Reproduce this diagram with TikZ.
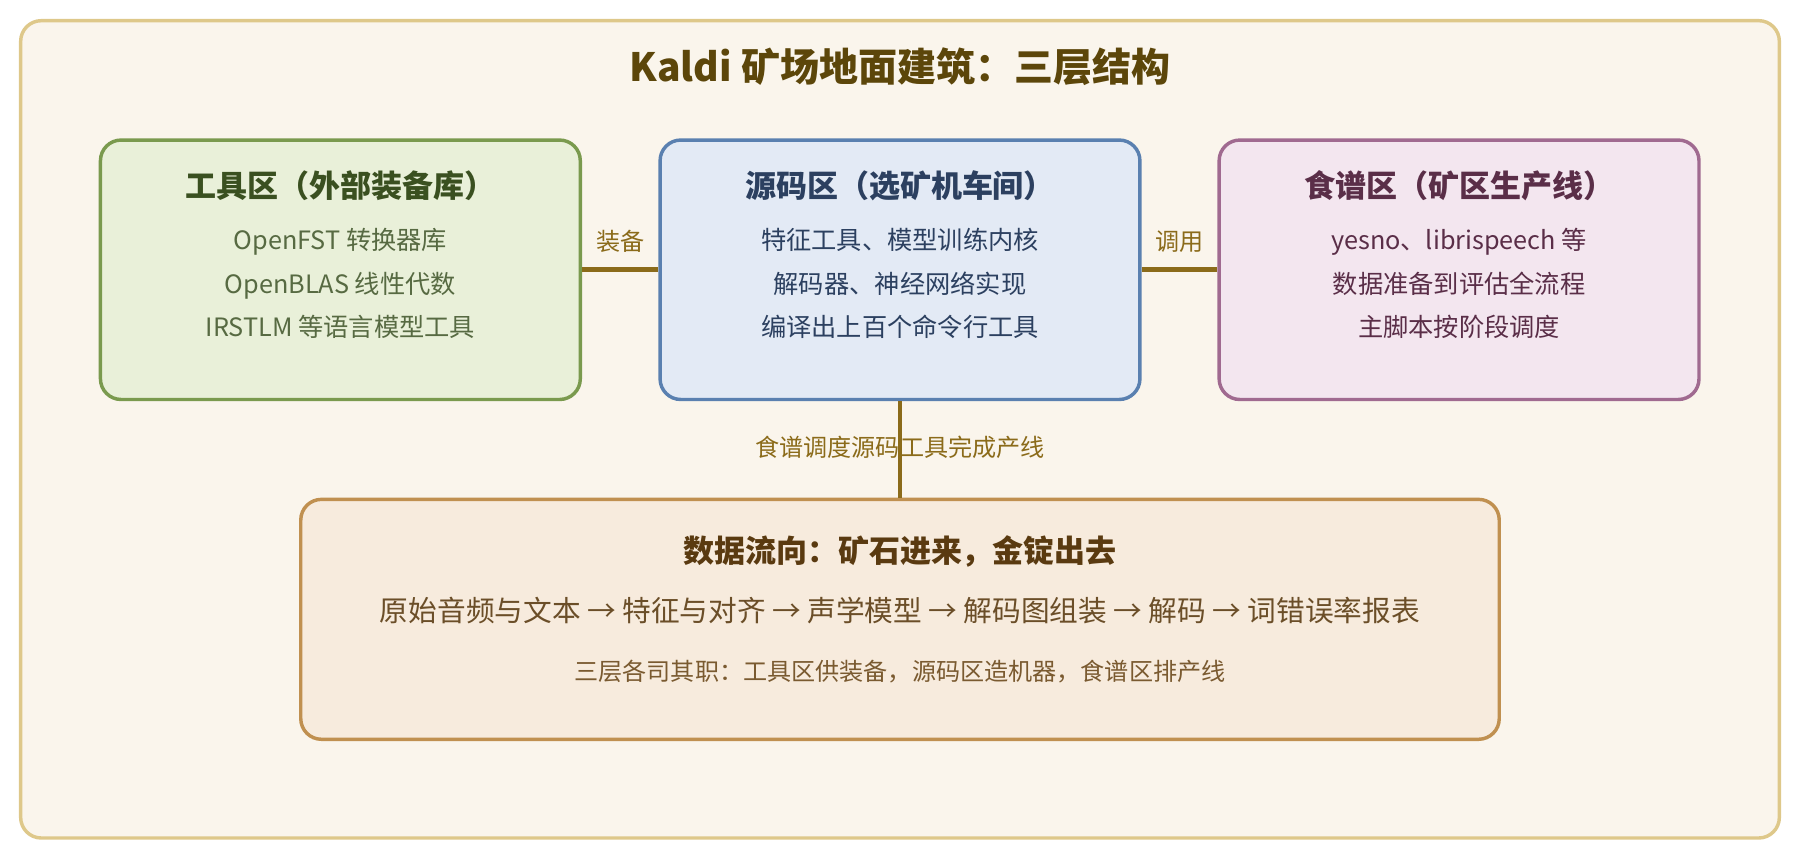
\documentclass[tikz,border=0pt]{standalone}
\usepackage{fontspec}
\setmainfont{Noto Sans CJK SC}
\usetikzlibrary{positioning}
\definecolor{page}{RGB}{250,245,236}
\definecolor{pageline}{RGB}{222,200,138}
\definecolor{wire}{RGB}{139,107,26}
\definecolor{toolfill}{RGB}{233,240,217}
\definecolor{toolline}{RGB}{122,154,78}
\definecolor{tooltext}{RGB}{58,80,32}
\definecolor{srcfill}{RGB}{227,234,245}
\definecolor{srcline}{RGB}{90,128,176}
\definecolor{srctext}{RGB}{44,64,96}
\definecolor{recfill}{RGB}{243,230,239}
\definecolor{recline}{RGB}{160,106,144}
\definecolor{rectext}{RGB}{90,46,72}
\definecolor{flowfill}{RGB}{247,235,221}
\definecolor{flowline}{RGB}{192,144,80}
\definecolor{flowtext}{RGB}{90,58,16}
\tikzset{zone/.style={draw,line width=1.5pt,rounded corners=9pt,minimum width=209pt,minimum height=113pt}}
\tikzset{link/.style={line width=2pt,color=wire}}
\tikzset{linklabel/.style={text=wire,font=\fontsize{10.5}{12}\selectfont}}
\tikzset{ztitle/.style={font=\fontsize{13.5}{16}\selectfont\bfseries}}
\tikzset{zbody/.style={font=\fontsize{11}{19}\selectfont,align=center}}
\begin{document}
\begin{tikzpicture}[x=0.5pt,y=-0.5pt]
  \useasboundingbox (0,0) rectangle (1568,749);
  \draw[fill=page,draw=pageline,line width=1.5pt,rounded corners=9pt] (18,18) rectangle (1550,730);
  \node[text={rgb,255:red,92;green,70;blue,10},font=\fontsize{17}{20}\selectfont\bfseries] (title) at (784,58) {Kaldi 矿场地面建筑：三层结构};

  \node[zone,fill=toolfill,draw=toolline] (tools) at (296.5,235) {};
  \node[zone,fill=srcfill,draw=srcline] (src) at (784,235) {};
  \node[zone,fill=recfill,draw=recline] (recipe) at (1271,235) {};
  \node[draw=flowline,fill=flowfill,line width=1.5pt,rounded corners=9pt,minimum width=522pt,minimum height=104.5pt] (flow) at (784,539.5) {};

  \node[ztitle,text=tooltext] (toolsT) at (296.5,162) {工具区（外部装备库）};
  \node[zbody,text=tooltext!85!white] (toolsB) at (296.5,247) {OpenFST 转换器库\\OpenBLAS 线性代数\\IRSTLM 等语言模型工具};
  \node[ztitle,text=srctext] (srcT) at (784,162) {源码区（选矿机车间）};
  \node[zbody,text=srctext] (srcB) at (784,247) {特征工具、模型训练内核\\解码器、神经网络实现\\编译出上百个命令行工具};
  \node[ztitle,text=rectext] (recipeT) at (1271,162) {食谱区（矿区生产线）};
  \node[zbody,text=rectext] (recipeB) at (1271,247) {yesno、librispeech 等\\数据准备到评估全流程\\主脚本按阶段调度};

  \draw[link] (tools.east |- 0,235) -- (src.west |- 0,235) node[midway,above=3pt,linklabel] {装备};
  \draw[link] (src.east |- 0,235) -- (recipe.west |- 0,235) node[midway,above=3pt,linklabel] {调用};
  \draw[link] (src.south) -- (flow.north);
  \node[linklabel] (flowL) at (784,390) {食谱调度源码工具完成产线};

  \node[ztitle,text=flowtext] (flowT) at (784,480) {数据流向：矿石进来，金锭出去};
  \node[text=flowtext!90!white,font=\fontsize{12.5}{14}\selectfont] (flowB) at (784,532) {原始音频与文本 → 特征与对齐 → 声学模型 → 解码图组装 → 解码 → 词错误率报表};
  \node[text={rgb,255:red,122;green,90;blue,48},font=\fontsize{10.5}{12}\selectfont] (flowN) at (784,585) {三层各司其职：工具区供装备，源码区造机器，食谱区排产线};
\end{tikzpicture}
\end{document}
